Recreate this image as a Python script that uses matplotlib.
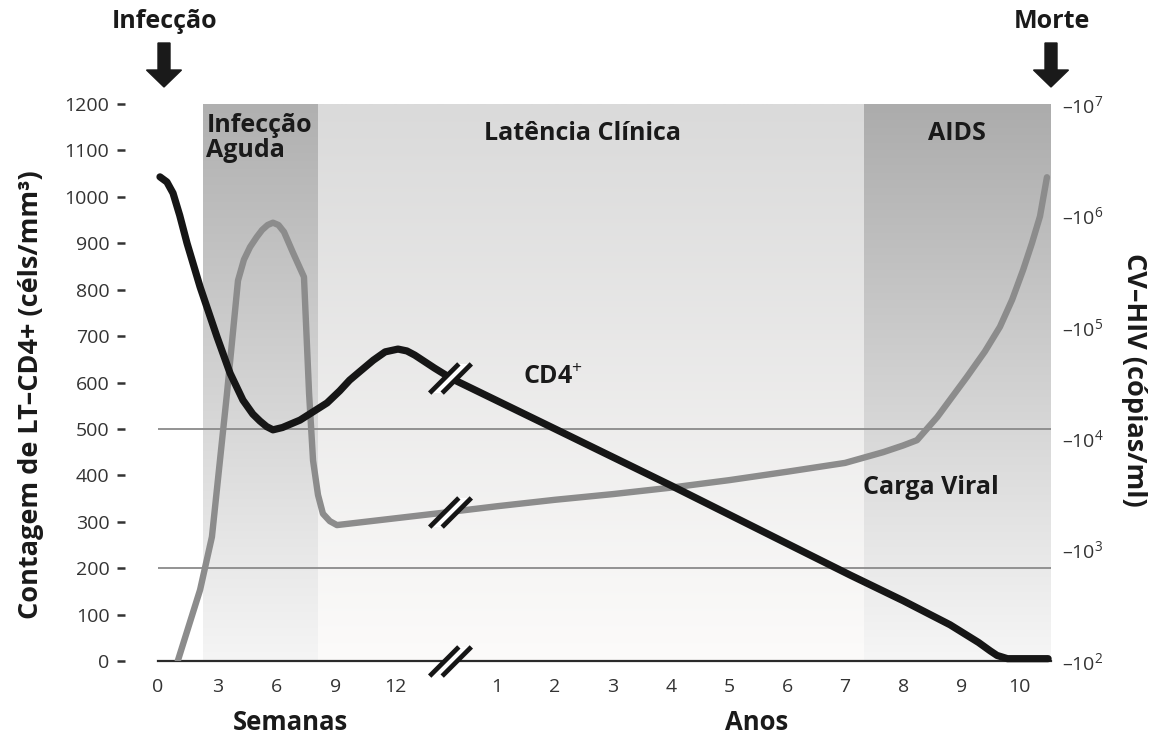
import numpy as np
import matplotlib
matplotlib.use('Agg')
import matplotlib.pyplot as plt
from matplotlib.path import Path
from matplotlib.patches import FancyArrow
import matplotlib.transforms as mtransforms

plt.rcParams['font.family'] = ['Open Sans', 'DejaVu Sans']
plt.rcParams['mathtext.fontset'] = 'custom'
plt.rcParams['mathtext.rm'] = 'Open Sans'
plt.rcParams['mathtext.it'] = 'Open Sans:italic'
plt.rcParams['mathtext.bf'] = 'Open Sans:bold'

# ---------------- data ----------------
week_ticks = [0, 3, 6, 9, 12]
year_ticks = [1, 2, 3, 4, 5, 6, 7, 8, 9, 10]

cd4_ticks = [0, 100, 200, 300, 400, 500, 600, 700, 800, 900, 1000, 1100, 1200]
vl_ticks = [1e2, 1e3, 1e4, 1e5, 1e6, 1e7]
vl_tick_labels = [r'$\mathregular{–10^{2}}$', r'$\mathregular{–10^{3}}$', r'$\mathregular{–10^{4}}$',
                  r'$\mathregular{–10^{5}}$', r'$\mathregular{–10^{6}}$', r'$\mathregular{–10^{7}}$']

# CD4+ count (cells/mm3) - weeks part and years part
cd4_weeks = [0.1, 0.45, 0.76, 1.1, 1.47, 2.13, 2.99, 3.65, 4.3, 4.8, 5.16, 5.5, 5.82, 6.3, 7.19, 8.56,
             9.2, 9.7, 10.2, 10.9, 11.5, 12.15, 12.6, 13.0, 14.0, 14.8]
cd4_weeks_val = [1043, 1032, 1008, 960, 900, 806, 698, 620, 562, 532, 517, 505, 498, 503, 519, 556,
                 582, 605, 623, 648, 666, 672, 668, 659, 631, 610]
cd4_years = [0.19, 2.0, 4.0, 6.0, 7.09, 8.0, 8.81, 9.3, 9.5, 9.62, 9.8, 10.5]
cd4_years_val = [610, 500, 378, 253, 185, 130, 78, 40, 22, 12, 5, 5]

# Viral load (copies/ml) - weeks part and years part
vl_weeks = [1.0, 2.13, 2.73, 3.49, 4.05, 4.35, 4.66, 5.0, 5.27, 5.55, 5.82, 6.1, 6.38, 6.84, 7.39,
            7.65, 7.85, 8.10, 8.35, 8.7, 9.06, 14.8]
vl_weeks_val = [100, 435, 1300, 25000, 260000, 400000, 520000, 640000, 740000, 820000, 860000, 820000,
                710000, 460000, 280000, 25000, 6300, 3100, 2100, 1800, 1660, 2180]
vl_years = [0.19, 1, 2, 3, 4, 5, 6, 7, 7.66, 8.0, 8.24, 8.59, 9.10, 9.41, 9.67, 9.88, 10.07, 10.22,
            10.36, 10.48]
vl_years_val = [2180, 2450, 2800, 3150, 3600, 4200, 5000, 6000, 7500, 8600, 9600, 15500, 35500,
                60000, 100000, 175000, 325000, 560000, 980000, 2200000]

phase_names = ['Infecção\nAguda', 'Latência Clínica', 'AIDS']
break_week = 14.8
break_year = 0.19

# ---------------- axis mapping ----------------
WEEK_SCALE = 19.75 / 58.0
YEAR_OFFSET = 4.845


def wpos(w):
    return np.asarray(w, dtype=float) * WEEK_SCALE


def ypos(y):
    return np.asarray(y, dtype=float) + YEAR_OFFSET


W, H = 1158, 737
fig = plt.figure(figsize=(W / 100, H / 100), dpi=100)
ax = fig.add_axes([158 / W, 1 - 661 / H, (1051 - 158) / W, (661 - 104) / H])
ax2 = ax.twinx()

x_end = float(ypos(10.55))
ax.set_xlim(0, x_end)
ax.set_ylim(0, 1200)
ax2.set_yscale('log')
ax2.set_ylim(1e2, 1e7)

# ---------------- background phases ----------------
def gradient(x0, x1, top, bottom):
    n = 256
    t = np.linspace(0, 1, n)[:, None]
    top = np.array(top) / 255.0
    bottom = np.array(bottom) / 255.0
    img = top[None, :] * (1 - t) + bottom[None, :] * t
    img = img[:, None, :]
    ax.imshow(img, extent=[x0, x1, 0, 1200], aspect='auto', zorder=0, interpolation='bilinear')

p_a0 = float(wpos(2.28))
p_a1 = float(wpos(8.1))
p_l1 = float(ypos(7.33))
gradient(p_a0, p_a1, (176, 176, 176), (245, 245, 245))
gradient(p_a1, p_l1, (218, 218, 218), (252, 251, 250))
gradient(p_l1, x_end, (172, 172, 172), (246, 246, 246))
ax.set_xlim(0, x_end)
ax.set_ylim(0, 1200)

ax.axhline(500, color='#8a8a8a', lw=1.3, zorder=1)
ax.axhline(200, color='#8a8a8a', lw=1.3, zorder=1)

# ---------------- curves ----------------
vl_x = np.concatenate([wpos(vl_weeks), ypos(vl_years)])
vl_y = np.concatenate([vl_weeks_val, vl_years_val])
ax2.plot(vl_x, vl_y, color='#8c8c8c', lw=4.6, solid_capstyle='round', solid_joinstyle='round', zorder=3)

cd4_x = np.concatenate([wpos(cd4_weeks), ypos(cd4_years)])
cd4_y = np.concatenate([cd4_weeks_val, cd4_years_val])
ax2.plot(cd4_x, cd4_y, color='#161616', lw=5.2, solid_capstyle='round', solid_joinstyle='round',
         zorder=4, transform=ax.transData, clip_on=False)

# ---------------- break marks ----------------
gap_path = Path([(-20, -14), (-8, -14), (20, 14), (8, 14), (-20, -14)],
                [Path.MOVETO, Path.LINETO, Path.LINETO, Path.LINETO, Path.CLOSEPOLY])
slash_path = Path([(-20, -14), (8, 14), (-8, -14), (20, 14)],
                  [Path.MOVETO, Path.LINETO, Path.MOVETO, Path.LINETO])
bx = float(ypos(break_year))
cd4_break_val = cd4_years_val[0]
vl_break_val = vl_years_val[0]
for yv, trans in [(cd4_break_val, ax.transData), (0, ax.transData)]:
    ax2.plot([bx], [yv], marker=gap_path, markersize=30, color='white', markeredgewidth=0,
             linestyle='none', transform=trans, zorder=5, clip_on=False)
    ax2.plot([bx], [yv], marker=slash_path, markersize=30, color='#161616', markeredgewidth=3.4,
             linestyle='none', transform=trans, zorder=6, clip_on=False)
ax2.plot([bx], [vl_break_val], marker=gap_path, markersize=30, color='white', markeredgewidth=0,
         linestyle='none', zorder=5, clip_on=False)
ax2.plot([bx], [vl_break_val], marker=slash_path, markersize=30, color='#161616', markeredgewidth=3.4,
         linestyle='none', zorder=6, clip_on=False)

# ---------------- axes styling ----------------
for s in ['top', 'right', 'left']:
    ax.spines[s].set_visible(False)
for s in ax2.spines.values():
    s.set_visible(False)
ax.spines['bottom'].set_color('#2a2a2a')
ax.spines['bottom'].set_linewidth(1.6)
ax.spines['bottom'].set_zorder(2)
ax.spines['left'].set_position(('outward', 24))

tick_pos = list(wpos(week_ticks)) + list(ypos(year_ticks))
tick_lab = [str(v) for v in week_ticks] + [str(v) for v in year_ticks]
ax.set_xticks(tick_pos)
ax.set_xticklabels(tick_lab)
ax.tick_params(axis='x', length=0, pad=12, labelsize=14, labelcolor='#333333')

ax.set_yticks(cd4_ticks)
ax.set_yticklabels([str(v) for v in cd4_ticks])
ax.tick_params(axis='y', length=6, width=1.8, color='#333333', pad=5, labelsize=14, labelcolor='#333333')

ax2.set_yticks(vl_ticks)
ax2.set_yticklabels(vl_tick_labels)
ax2.yaxis.set_minor_locator(matplotlib.ticker.NullLocator())
ax2.tick_params(axis='y', length=0, pad=8, labelsize=14, labelcolor='#333333')

ax.set_ylabel('Contagem de LT–CD4+ (céls/mm³)', fontsize=19.5, fontweight='bold', color='#1a1a1a')
ax.yaxis.set_label_coords(-0.128, 0.478)
ax2.set_ylabel('CV–HIV (cópias/ml)', fontsize=19.5, fontweight='bold', color='#1a1a1a', rotation=270)
ax2.yaxis.set_label_coords(1.107, 0.505)

bt = mtransforms.blended_transform_factory(ax.transData, ax.transAxes)
ax.text(float(wpos(6.7)), -0.11, 'Semanas', transform=bt, ha='center', va='center',
        fontsize=18.5, fontweight='bold', color='#1a1a1a')
ax.text(float(ypos(5.48)), -0.11, 'Anos', transform=bt, ha='center', va='center',
        fontsize=18.5, fontweight='bold', color='#1a1a1a')

# phase labels
ax.text(float(wpos(2.45)), 1180, phase_names[0], ha='left', va='top', fontsize=18,
        fontweight='bold', color='#1a1a1a', linespacing=1.0, zorder=7)
ax.text(float(ypos(2.48)), 1137, phase_names[1], ha='center', va='center', fontsize=18,
        fontweight='bold', color='#1a1a1a', zorder=7)
ax.text(float(ypos(8.93)), 1137, phase_names[2], ha='center', va='center', fontsize=18,
        fontweight='bold', color='#1a1a1a', zorder=7)

# series labels
ax.text(float(ypos(1.97)), 610, 'CD4$^{+}$', ha='center', va='center', fontsize=18,
        fontweight='bold', color='#1a1a1a', zorder=7)
ax.text(float(ypos(8.48)), 373, 'Carga Viral', ha='center', va='center', fontsize=18,
        fontweight='bold', color='#1a1a1a', zorder=7)

# ---------------- top events ----------------
def down_arrow(xpix):
    x = xpix / W
    y_top = 1 - 43 / H
    length = (87 - 43) / H
    fig.patches.append(FancyArrow(x, y_top, 0, -length, width=12 / W, head_width=35 / W,
                                  head_length=17 / H, length_includes_head=True,
                                  color='#1a1a1a', transform=fig.transFigure, figure=fig))

fig.text(165 / W, 1 - 21 / H, 'Infecção', ha='center', va='center', fontsize=18,
         fontweight='bold', color='#1a1a1a')
fig.text(1052 / W, 1 - 22 / H, 'Morte', ha='center', va='center', fontsize=18,
         fontweight='bold', color='#1a1a1a')
down_arrow(164)
down_arrow(1051)

fig.savefig('out.png', dpi=100)
